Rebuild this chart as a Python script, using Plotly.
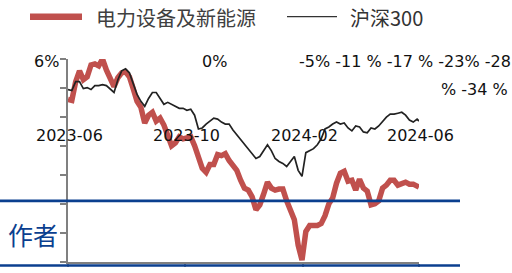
import plotly.graph_objects as go

# ---------------- data ----------------
DATES = [
    "2023-06-01", "2023-06-05", "2023-06-09", "2023-06-13", "2023-06-17", "2023-06-21",
    "2023-06-25", "2023-06-29", "2023-07-03", "2023-07-07", "2023-07-11", "2023-07-15",
    "2023-07-19", "2023-07-23", "2023-07-27", "2023-07-31", "2023-08-04", "2023-08-08",
    "2023-08-12", "2023-08-16", "2023-08-20", "2023-08-24", "2023-08-28", "2023-09-01",
    "2023-09-05", "2023-09-09", "2023-09-13", "2023-09-17", "2023-09-21", "2023-09-25",
    "2023-09-29", "2023-10-03", "2023-10-07", "2023-10-11", "2023-10-15", "2023-10-19",
    "2023-10-23", "2023-10-27", "2023-10-31", "2023-11-04", "2023-11-08", "2023-11-12",
    "2023-11-16", "2023-11-20", "2023-11-24", "2023-11-28", "2023-12-02", "2023-12-06",
    "2023-12-10", "2023-12-14", "2023-12-18", "2023-12-22", "2023-12-26", "2023-12-30",
    "2024-01-03", "2024-01-07", "2024-01-11", "2024-01-15", "2024-01-19", "2024-01-23",
    "2024-01-27", "2024-01-31", "2024-02-04", "2024-02-08", "2024-02-12", "2024-02-16",
    "2024-02-20", "2024-02-24", "2024-02-28", "2024-03-03", "2024-03-07", "2024-03-11",
    "2024-03-15", "2024-03-19", "2024-03-23", "2024-03-27", "2024-03-31", "2024-04-04",
    "2024-04-08", "2024-04-12", "2024-04-16", "2024-04-20", "2024-04-24", "2024-04-28",
    "2024-05-02", "2024-05-06", "2024-05-10", "2024-05-14", "2024-05-18", "2024-05-22",
    "2024-05-26", "2024-05-30", "2024-06-01",
]

# 电力设备及新能源 (%)
POWER_EQUIP = [
    -1.96, -2.16, 1.53, 3.67, 1.92, 2.50, 4.83, 5.03, 4.64, 6.00,
    3.86, 1.92, 0.56, 2.31, 3.28, 3.48, 2.50, 0.17, -2.35, -3.51,
    -6.62, -5.07, -4.49, -6.23, -5.65, -7.01, -9.15, -11.09, -10.50, -9.34,
    -9.73, -9.53, -9.34, -11.09, -13.61, -15.55, -16.33, -14.78, -14.78, -12.83,
    -13.03, -12.64, -14.00, -14.78, -15.94, -17.88, -19.44, -19.83, -21.18, -23.71,
    -22.74, -20.60, -18.27, -19.44, -19.83, -19.63, -19.63, -21.96, -23.51, -25.65,
    -30.70, -33.61, -27.98, -26.82, -26.82, -26.82, -26.43, -24.87, -22.54, -21.38,
    -18.47, -16.52, -16.14, -18.08, -17.88, -19.83, -17.69, -19.44, -20.02, -22.74,
    -22.54, -21.96, -19.44, -18.85, -17.88, -17.88, -18.85, -18.47, -18.27, -18.66,
    -18.66, -19.05, -19.24,
]

# 沪深300 (%)
HS300 = [
    -0.02, -0.21, 1.53, 1.53, 0.17, 0.37, -0.02, 0.76, 0.76, 0.95,
    0.76, 0.17, -0.60, 1.92, 3.67, 4.06, 3.28, 1.15, -0.99, -2.35,
    -3.32, -1.77, -0.60, -0.60, -1.77, -2.93, -2.54, -2.93, -3.32, -3.71,
    -3.71, -4.10, -3.90, -5.07, -7.79, -7.59, -6.82, -6.23, -5.65, -5.84,
    -6.43, -6.82, -6.82, -7.98, -8.95, -9.73, -10.89, -11.86, -12.64, -13.61,
    -13.22, -12.06, -10.89, -12.06, -13.61, -14.19, -14.58, -15.17, -14.19, -13.22,
    -15.94, -17.11, -12.45, -12.06, -11.67, -10.89, -9.73, -7.79, -7.40, -6.82,
    -6.43, -6.82, -6.62, -7.59, -8.17, -7.20, -7.40, -8.37, -8.56, -7.59,
    -7.79, -7.20, -6.23, -5.46, -4.87, -4.87, -4.68, -4.49, -5.07, -6.04,
    -6.43, -5.84, -6.23,
]

SERIES_NAMES = ["电力设备及新能源", "沪深300"]

Y_TICKS = [6, 0.29, -5.43, -11.14, -16.86, -22.57, -28.29, -34]
Y_LABEL_TEXTS = ["6%", "0%", "-5% -11 % -17 % -23% -28", "% -34 %"]
X_TICKS = ["2023-06-01", "2023-10-01", "2024-02-01", "2024-06-01"]
X_TICK_LABELS = ["2023-06", "2023-10", "2024-02", "2024-06"]
SIDE_TEXT = "作者"

# ---------------- layout helpers (pixel -> paper) ----------------
W, H = 512, 273
L, R_EDGE, T, B_EDGE = 68, 419, 59, 265


def px_x(px):
    return (px - L) / (R_EDGE - L)


def px_y(py):
    return (B_EDGE - py) / (B_EDGE - T)


RED = "#c0504d"
BLUE = "#0b3f8f"
AXIS_GRAY = "#808080"
NUM_FONT = "DejaVu Sans"
CJK_FONT = "Noto Sans CJK SC"

fig = go.Figure()
fig.add_trace(go.Scatter(
    x=DATES, y=POWER_EQUIP, name=SERIES_NAMES[0], mode="lines",
    line=dict(color=RED, width=5.5), showlegend=False,
))
fig.add_trace(go.Scatter(
    x=DATES, y=HS300, name=SERIES_NAMES[1], mode="lines",
    line=dict(color="#222222", width=1.7), showlegend=False,
))

shapes = [
    # legend swatches
    dict(type="line", xref="paper", yref="paper", x0=px_x(30), x1=px_x(82),
         y0=px_y(16), y1=px_y(16), line=dict(color=RED, width=6.5)),
    dict(type="line", xref="paper", yref="paper", x0=px_x(287), x1=px_x(337),
         y0=px_y(16), y1=px_y(16), line=dict(color="#333333", width=1.2)),
    # blue rules
    dict(type="line", xref="paper", yref="paper", x0=px_x(0), x1=px_x(460),
         y0=px_y(203), y1=px_y(203), line=dict(color=BLUE, width=2.6), layer="above"),
    dict(type="line", xref="paper", yref="paper", x0=px_x(0), x1=px_x(460),
         y0=px_y(268.5), y1=px_y(268.5), line=dict(color=BLUE, width=2.6), layer="above"),
]

annotations = [
    dict(text=SERIES_NAMES[0], x=px_x(94), y=px_y(17), xanchor="left", yanchor="middle",
         font=dict(family=CJK_FONT, size=20, color="#404040")),
    dict(text=SERIES_NAMES[1], x=px_x(348), y=px_y(17), xanchor="left", yanchor="middle",
         font=dict(family=CJK_FONT, size=20, color="#333333")),
    dict(text=Y_LABEL_TEXTS[0], x=px_x(61), y=px_y(62), xanchor="right", yanchor="middle",
         font=dict(family=NUM_FONT, size=16, color="#111111")),
    dict(text=Y_LABEL_TEXTS[1], x=px_x(200), y=px_y(62), xanchor="left", yanchor="middle",
         font=dict(family=NUM_FONT, size=16, color="#111111")),
    dict(text=Y_LABEL_TEXTS[2], x=px_x(297), y=px_y(62), xanchor="left", yanchor="middle",
         font=dict(family=NUM_FONT, size=16, color="#111111")),
    dict(text=Y_LABEL_TEXTS[3], x=px_x(510), y=px_y(90), xanchor="right", yanchor="middle",
         font=dict(family=NUM_FONT, size=16, color="#111111")),
    dict(text=SIDE_TEXT, x=px_x(6), y=px_y(237), xanchor="left", yanchor="middle",
         font=dict(family=CJK_FONT, size=25, color=BLUE)),
]
for d, lab in zip(X_TICKS, X_TICK_LABELS):
    annotations.append(dict(
        text=lab, x=d, xref="x", y=px_y(137), yref="paper", xanchor="center",
        yanchor="middle", xshift=1.5, showarrow=False,
        font=dict(family=NUM_FONT, size=16, color="#111111"),
    ))
for a in annotations:
    a.setdefault("xref", "paper")
    a.setdefault("yref", "paper")
    a.setdefault("showarrow", False)

fig.update_layout(
    width=W, height=H, autosize=False,
    margin=dict(l=L, r=W - R_EDGE, t=T, b=H - B_EDGE, pad=0),
    paper_bgcolor="white", plot_bgcolor="white",
    shapes=shapes, annotations=annotations,
    xaxis=dict(
        type="date", range=[X_TICKS[0], X_TICKS[-1]], tickmode="array",
        tickvals=X_TICKS, showticklabels=False, ticks="outside", ticklen=3,
        tickwidth=1.5, tickcolor=AXIS_GRAY, showline=True, linecolor=AXIS_GRAY,
        linewidth=1.6, showgrid=False, zeroline=False,
    ),
    yaxis=dict(
        range=[Y_TICKS[-1], Y_TICKS[0]], tickmode="array", tickvals=Y_TICKS,
        showticklabels=False, ticks="outside", ticklen=6, tickwidth=1.5,
        tickcolor=AXIS_GRAY, showline=True, linecolor=AXIS_GRAY, linewidth=1.6,
        showgrid=False, zeroline=False,
    ),
)

fig.write_html(
    "out.html",
    config={"displayModeBar": False},
    post_script="document.body.style.margin='0';document.body.style.overflow='hidden';",
)
